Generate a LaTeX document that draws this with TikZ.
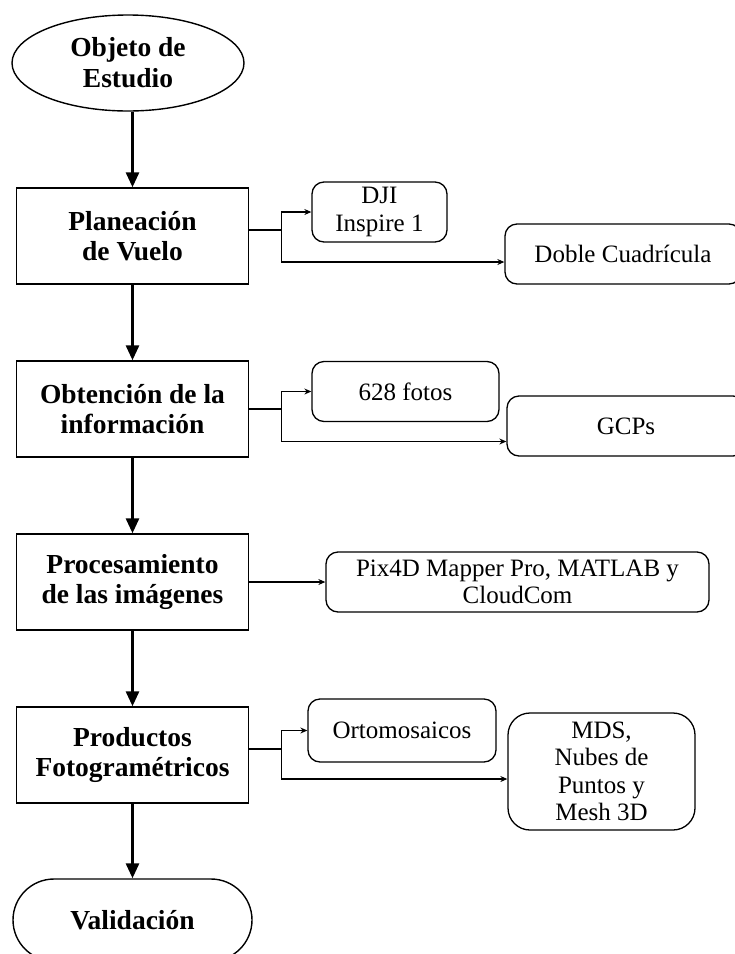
\documentclass[tikz,border=0pt]{standalone}
\usepackage{fontspec}
\setmainfont{Liberation Serif}
\usetikzlibrary{shapes.geometric, arrows.meta}
\tikzstyle{inicio} = [ellipse, text centered, draw=black, line width=1.4pt, minimum width=232pt, minimum height=96pt, align=center, font=\fontsize{27.5}{31}\selectfont\bfseries]
\tikzstyle{proceso} = [rectangle, text centered, draw=black, line width=1.4pt, minimum width=232pt, minimum height=96pt, align=center, font=\fontsize{27.5}{30}\selectfont\bfseries]
\tikzstyle{fin} = [rectangle, rounded corners=41pt, text centered, draw=black, line width=1.4pt, minimum width=239pt, minimum height=82pt, align=center, font=\fontsize{27.5}{30}\selectfont\bfseries]
\tikzstyle{detalle} = [rectangle, rounded corners=12pt, text centered, draw=black, line width=1.3pt, minimum height=60pt, align=center, font=\fontsize{25}{27.5}\selectfont]
\tikzstyle{arrow} = [line width=2.8pt, -{Triangle[length=15pt,width=13pt]}]
\tikzstyle{rama} = [line width=1.1pt, -{Stealth[length=7pt,width=6pt]}]
\tikzstyle{linea} = [line width=1.1pt]

\begin{document}
\begin{tikzpicture}[x=1pt, y=1pt, node distance=173pt]
\useasboundingbox (0,0) rectangle (735,-954);

\node (obj) [inicio] at (128,-63) {Objeto de\\Estudio};
\node (plan) [proceso, below of=obj, xshift=4.5pt] {Planeación\\de Vuelo};
\node (obt) [proceso, below of=plan] {Obtención de la\\información};
\node (proc) [proceso, below of=obt] {Procesamiento\\de las imágenes};
\node (prod) [proceso, below of=proc] {Productos\\Fotogramétricos};
\node (valid) [fin, below of=prod, yshift=8pt] {Validación};

\node (dji) [detalle, right of=plan, xshift=74pt, yshift=24pt, minimum width=135pt] {DJI\\Inspire 1};
\node (doble) [detalle, right of=plan, xshift=317.5pt, yshift=-18pt, minimum width=236pt] {Doble Cuadrícula};
\node (foto) [detalle, right of=obt, xshift=100pt, yshift=17.5pt, minimum width=187pt] {628 fotos};
\node (gcp) [detalle, right of=obt, xshift=320.5pt, yshift=-17pt, minimum width=238pt] {GCPs};
\node (pix) [detalle, right of=proc, xshift=212pt, minimum width=383pt] {Pix4D Mapper Pro, MATLAB y\\CloudCom};
\node (orto) [detalle, right of=prod, xshift=96.5pt, yshift=24.5pt, minimum width=188pt, minimum height=63pt] {Ortomosaicos};
\node (mds) [detalle, right of=prod, xshift=296pt, yshift=-16.5pt, minimum width=187pt, minimum height=117pt, rounded corners=22pt] {MDS,\\Nubes de\\Puntos y\\Mesh 3D};

\coordinate (c1) at ([xshift=32.5pt,yshift=6pt]plan.east);
\coordinate (c2) at ([xshift=32.5pt]obt.east);
\coordinate (c4) at ([xshift=32.5pt,yshift=6pt]prod.east);

\draw [arrow] (obj.south -| plan.north) -- (plan.north);
\draw [arrow] (plan.south) -- (obt.north);
\draw [arrow] (obt.south) -- (proc.north);
\draw [arrow] (proc.south) -- (prod.north);
\draw [arrow] (prod.south) -- (valid.north);

\draw [linea] ([yshift=6pt]plan.east) -- (c1);
\draw [rama] (c1) |- (dji.west);
\draw [rama] (c1) |- ([yshift=-8pt]doble.west);

\draw [linea] (obt.east) -- (c2);
\draw [rama] (c2) |- (foto.west);
\draw [rama] (c2) |- ([yshift=-15.5pt]gcp.west);

\draw [rama] (proc.east) -- (pix.west);

\draw [linea] ([yshift=6pt]prod.east) -- (c4);
\draw [rama] (c4) |- (orto.west);
\draw [rama] (c4) |- ([yshift=-7.5pt]mds.west);

\end{tikzpicture}
\end{document}
